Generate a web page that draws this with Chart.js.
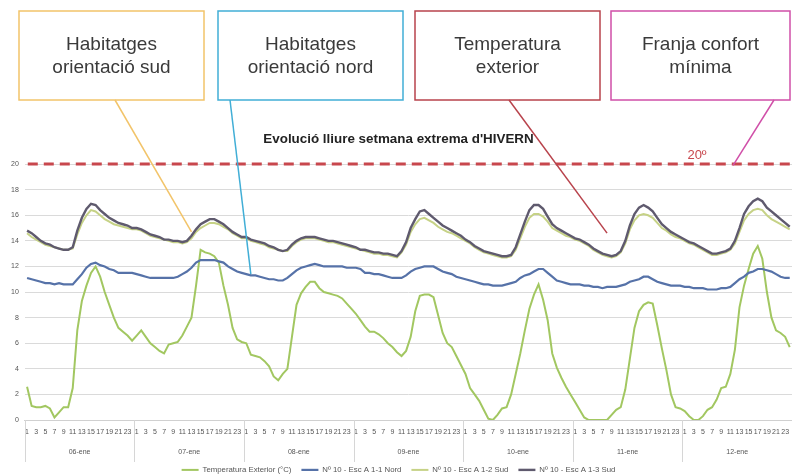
<!DOCTYPE html>
<html>
<head>
<meta charset="utf-8">
<script src="https://cdn.jsdelivr.net/npm/chart.js@4.4.1/dist/chart.umd.min.js"></script>
<style>
  html, body { margin: 0; padding: 0; background: #fff; }
  #wrap { position: relative; width: 792px; height: 476px; }
</style>
</head>
<body>
<div id="wrap"><canvas id="chartHivern"></canvas></div>
<script>
"use strict";

var dayLabels = ['06-ene', '07-ene', '08-ene', '09-ene', '10-ene', '11-ene', '12-ene'];
var hourLabels = ['1','2','3','4','5','6','7','8','9','10','11','12','13','14','15','16','17','18','19','20','21','22','23','24'];
var yTicks = [0, 2, 4, 6, 8, 10, 12, 14, 16, 18, 20];
var confortMin = 20;

// Temperatura Exterior (°C), hour by hour, one line per day
var tempExterior = [
  2.6, 1.1, 1.0, 1.0, 1.1, 0.9, 0.2, 0.6, 1.0, 1.0, 2.5, 7.0, 9.3, 10.5, 11.5, 12.0, 11.2, 10.0, 9.0, 8.0, 7.2, 6.9, 6.6, 6.2,
  6.6, 7.0, 6.5, 6.0, 5.7, 5.4, 5.2, 5.9, 6.0, 6.1, 6.6, 7.3, 8.0, 10.5, 13.3, 13.1, 13.0, 12.8, 12.3, 10.5, 9.0, 7.2, 6.3, 6.1,
  6.0, 5.1, 5.0, 4.9, 4.6, 4.2, 3.4, 3.1, 3.6, 4.0, 6.5, 9.0, 9.9, 10.4, 10.8, 10.8, 10.3, 10.0, 9.9, 9.8, 9.7, 9.5, 9.1, 8.7,
  8.3, 7.8, 7.3, 6.9, 6.9, 6.7, 6.4, 6.0, 5.7, 5.3, 5.0, 5.4, 6.5, 8.5, 9.7, 9.8, 9.8, 9.6, 8.2, 6.8, 6.0, 5.7, 5.0, 4.3,
  3.6, 2.5, 2.0, 1.5, 0.8, 0.1, 0.0, 0.4, 0.9, 1.0, 2.0, 3.6, 5.2, 7.0, 8.7, 9.8, 10.6, 9.4, 7.8, 5.2, 4.1, 3.3, 2.6, 2.0,
  1.4, 0.8, 0.2, 0.0, 0.0, 0.0, 0.0, 0.0, 0.4, 0.8, 1.0, 2.4, 4.8, 7.2, 8.5, 9.0, 9.2, 9.1, 7.4, 5.6, 3.9, 2.0, 1.0, 0.9,
  0.7, 0.3, 0.0, 0.0, 0.3, 0.8, 1.0, 1.6, 2.5, 2.6, 3.6, 5.5, 8.8, 10.5, 11.8, 13.0, 13.6, 12.6, 10.0, 8.0, 7.0, 6.8, 6.5, 5.7
];

// Nº 10 - Esc A 1-1 Nord
var nord11 = [
  11.1, 11.0, 10.9, 10.8, 10.7, 10.7, 10.6, 10.7, 10.6, 10.6, 10.6, 11.0, 11.4, 11.9, 12.2, 12.3, 12.1, 12.0, 11.8, 11.7, 11.5, 11.5, 11.5, 11.5,
  11.4, 11.3, 11.2, 11.1, 11.1, 11.1, 11.1, 11.1, 11.1, 11.2, 11.4, 11.6, 11.9, 12.3, 12.5, 12.5, 12.5, 12.5, 12.4, 12.3, 12.0, 11.8, 11.6, 11.5,
  11.4, 11.3, 11.3, 11.2, 11.1, 11.0, 11.0, 10.9, 10.9, 11.1, 11.4, 11.7, 11.9, 12.0, 12.1, 12.2, 12.1, 12.0, 12.0, 12.0, 12.0, 12.0, 11.9, 11.9,
  11.9, 11.8, 11.5, 11.5, 11.4, 11.4, 11.3, 11.2, 11.1, 11.1, 11.1, 11.3, 11.6, 11.8, 11.9, 12.0, 12.0, 12.0, 11.8, 11.6, 11.5, 11.4, 11.2, 11.1,
  11.0, 10.9, 10.8, 10.7, 10.6, 10.6, 10.5, 10.5, 10.5, 10.6, 10.7, 10.8, 11.1, 11.3, 11.4, 11.6, 11.8, 11.8, 11.5, 11.2, 10.9, 10.8, 10.7, 10.6,
  10.6, 10.6, 10.5, 10.5, 10.4, 10.4, 10.3, 10.4, 10.4, 10.4, 10.5, 10.6, 10.8, 10.9, 11.0, 11.2, 11.2, 11.0, 10.8, 10.7, 10.6, 10.5, 10.5, 10.5,
  10.4, 10.4, 10.3, 10.3, 10.3, 10.2, 10.2, 10.2, 10.3, 10.3, 10.4, 10.7, 11.0, 11.2, 11.5, 11.6, 11.8, 11.8, 11.7, 11.6, 11.4, 11.2, 11.1, 11.1
];

// Nº 10 - Esc A 1-2 Sud
var sud12 = [
  14.6, 14.3, 14.1, 13.9, 13.7, 13.6, 13.5, 13.4, 13.3, 13.3, 13.4, 14.5, 15.4, 16.0, 16.4, 16.3, 16.0, 15.7, 15.5, 15.3, 15.2, 15.1, 15.0, 14.9,
  14.9, 14.8, 14.6, 14.4, 14.3, 14.2, 14.1, 14.0, 13.9, 13.9, 13.8, 13.9, 14.2, 14.7, 15.0, 15.2, 15.4, 15.4, 15.3, 15.1, 14.9, 14.6, 14.4, 14.2,
  14.2, 14.0, 13.9, 13.8, 13.7, 13.5, 13.4, 13.3, 13.2, 13.2, 13.6, 13.9, 14.1, 14.2, 14.2, 14.2, 14.1, 14.0, 13.9, 13.9, 13.8, 13.7, 13.6, 13.5,
  13.4, 13.3, 13.2, 13.1, 13.0, 13.0, 12.9, 12.9, 12.8, 12.7, 13.1, 13.7, 14.7, 15.3, 15.7, 15.8, 15.6, 15.4, 15.1, 14.9, 14.7, 14.6, 14.4, 14.2,
  14.0, 13.8, 13.5, 13.3, 13.1, 13.0, 12.9, 12.8, 12.7, 12.7, 12.8, 13.3, 14.2, 15.1, 15.8, 16.1, 16.1, 15.9, 15.5, 15.0, 14.8, 14.6, 14.4, 14.3,
  14.1, 14.0, 13.8, 13.6, 13.3, 13.1, 12.9, 12.8, 12.7, 12.8, 13.1, 13.8, 14.9, 15.6, 16.0, 16.1, 16.0, 15.8, 15.4, 15.0, 14.8, 14.5, 14.3, 14.2,
  14.0, 13.8, 13.7, 13.5, 13.3, 13.1, 12.9, 12.9, 13.0, 13.1, 13.3, 13.8, 14.7, 15.6, 16.1, 16.4, 16.5, 16.4, 16.0, 15.7, 15.5, 15.3, 15.1, 14.9
];

// Nº 10 - Esc A 1-3 Sud
var sud13 = [
  14.8, 14.6, 14.3, 14.0, 13.8, 13.7, 13.5, 13.4, 13.3, 13.3, 13.5, 14.8, 15.8, 16.5, 16.9, 16.8, 16.4, 16.1, 15.8, 15.6, 15.4, 15.3, 15.2, 15.0,
  15.0, 14.9, 14.7, 14.5, 14.4, 14.3, 14.1, 14.1, 14.0, 14.0, 13.9, 14.0, 14.4, 14.9, 15.3, 15.5, 15.7, 15.7, 15.5, 15.3, 15.0, 14.7, 14.5, 14.3,
  14.3, 14.1, 14.0, 13.9, 13.8, 13.6, 13.5, 13.3, 13.2, 13.3, 13.7, 14.0, 14.2, 14.3, 14.3, 14.3, 14.2, 14.1, 14.0, 14.0, 13.9, 13.8, 13.7, 13.6,
  13.5, 13.3, 13.3, 13.2, 13.1, 13.1, 13.0, 13.0, 12.9, 12.8, 13.2, 13.9, 15.0, 15.7, 16.3, 16.4, 16.1, 15.8, 15.5, 15.2, 15.0, 14.8, 14.6, 14.4,
  14.1, 13.9, 13.6, 13.4, 13.2, 13.1, 13.0, 12.9, 12.8, 12.8, 12.9, 13.5, 14.5, 15.5, 16.4, 16.8, 16.8, 16.5, 15.9, 15.3, 15.0, 14.8, 14.6, 14.4,
  14.2, 14.1, 13.9, 13.7, 13.4, 13.2, 13.0, 12.9, 12.8, 12.9, 13.2, 14.0, 15.2, 16.1, 16.6, 16.8, 16.6, 16.3, 15.8, 15.3, 15.0, 14.7, 14.5, 14.3,
  14.1, 13.9, 13.8, 13.6, 13.4, 13.2, 13.0, 13.0, 13.1, 13.2, 13.4, 14.0, 15.0, 16.1, 16.7, 17.1, 17.3, 17.1, 16.6, 16.3, 16.0, 15.7, 15.4, 15.1
];

// one category per hour of the week
var hourAxisLabels = [];
dayLabels.forEach(function () {
  hourLabels.forEach(function (h) { hourAxisLabels.push(h); });
});

// callout boxes drawn over the top of the chart
var callouts = [
  { lines: ['Habitatges', 'orientació sud'], color: '#f2c46a', box: [19, 11, 185, 89], from: [115, 100], to: [36, 14.7] },
  { lines: ['Habitatges', 'orientació nord'], color: '#41aed6', box: [218, 11, 185, 89], from: [230, 100], to: [49, 11.4] },
  { lines: ['Temperatura', 'exterior'], color: '#b8434c', box: [415, 11, 185, 89], from: [509, 100], to: [127, 14.6] },
  { lines: ['Franja confort', 'mínima'], color: '#d04fa8', box: [611, 11, 179, 89], from: [774, 100], to: [154.6, 19.9] }
];

var hivernPlugin = {
  id: 'hivernOverlay',
  beforeDatasetsDraw: function (chart) {
    var ctx = chart.ctx, ys = chart.scales.y, area = chart.chartArea;
    var y = ys.getPixelForValue(confortMin);
    ctx.save();
    ctx.strokeStyle = '#c8474d';
    ctx.lineWidth = 3;
    ctx.setLineDash([10, 6]);
    ctx.beginPath();
    ctx.moveTo(area.left + 3, y);
    ctx.lineTo(area.right, y);
    ctx.stroke();
    ctx.restore();
  },
  afterDraw: function (chart) {
    var ctx = chart.ctx, xs = chart.scales.x, ys = chart.scales.y, area = chart.chartArea;
    var half = (xs.getPixelForValue(1) - xs.getPixelForValue(0)) / 2;

    ctx.save();
    // day separators below the axis
    ctx.strokeStyle = '#d6d6d6';
    ctx.lineWidth = 1;
    for (var d = 0; d <= dayLabels.length; d++) {
      var px = Math.round(xs.getPixelForValue(d * 24) - half) + 0.5;
      ctx.beginPath();
      ctx.moveTo(px, area.bottom);
      ctx.lineTo(px, area.bottom + 42);
      ctx.stroke();
    }

    // 20º label
    ctx.fillStyle = '#c8474d';
    ctx.font = '13px "Liberation Sans", Arial, sans-serif';
    ctx.textAlign = 'center';
    ctx.textBaseline = 'middle';
    ctx.fillText('20º', 697, ys.getPixelForValue(confortMin) - 9);

    // callouts
    callouts.forEach(function (c) {
      ctx.strokeStyle = c.color;
      ctx.lineWidth = 1.5;
      ctx.fillStyle = '#fff';
      ctx.fillRect(c.box[0], c.box[1], c.box[2], c.box[3]);
      ctx.strokeRect(c.box[0], c.box[1], c.box[2], c.box[3]);
      ctx.beginPath();
      ctx.moveTo(c.from[0], c.from[1]);
      ctx.lineTo(xs.getPixelForValue(c.to[0]), ys.getPixelForValue(c.to[1]));
      ctx.stroke();
      ctx.fillStyle = '#3a3a3a';
      ctx.font = '19px "Liberation Sans", Arial, sans-serif';
      ctx.textAlign = 'center';
      ctx.textBaseline = 'alphabetic';
      var cx = c.box[0] + c.box[2] / 2;
      ctx.fillText(c.lines[0], cx, 50);
      ctx.fillText(c.lines[1], cx, 73);
    });
    ctx.restore();
  }
};

var ctx = document.getElementById('chartHivern').getContext('2d');
var chartHivern = new Chart(ctx, {
  type: 'line',
  data: {
    labels: hourAxisLabels,
    datasets: [{
      label: 'Temperatura Exterior (°C)',
      data: tempExterior,
      borderColor: '#a2c761',
      backgroundColor: '#a2c761',
      borderWidth: 2,
      order: 3
    }, {
      label: 'Nº 10 - Esc A 1-1 Nord',
      data: nord11,
      borderColor: '#5672a8',
      backgroundColor: '#5672a8',
      borderWidth: 2.2,
      order: 2
    }, {
      label: 'Nº 10 - Esc A 1-2 Sud',
      data: sud12,
      borderColor: '#c6d286',
      backgroundColor: '#c6d286',
      borderWidth: 2,
      order: 1
    }, {
      label: 'Nº 10 - Esc A 1-3 Sud',
      data: sud13,
      borderColor: '#5f5a6e',
      backgroundColor: '#5f5a6e',
      borderWidth: 2.4,
      order: 0
    }]
  },
  options: {
    responsive: true,
    maintainAspectRatio: false,
    animation: false,
    layout: {
      padding: { top: 131, left: 5, right: 0, bottom: 0 }
    },
    elements: {
      point: { radius: 0 },
      line: { tension: 0, fill: false }
    },
    plugins: {
      title: {
        display: true,
        text: "Evolució lliure setmana extrema d'HIVERN",
        color: '#222',
        font: { family: '"Liberation Sans", Arial, sans-serif', size: 13.4, weight: 'bold' },
        padding: { top: 0, bottom: 17 }
      },
      legend: {
        display: true,
        position: 'bottom',
        maxHeight: 20,
        labels: {
          usePointStyle: true,
          pointStyle: 'line',
          pointStyleWidth: 17,
          padding: 10,
          color: '#555',
          font: { family: '"Liberation Sans", Arial, sans-serif', size: 7.8 },
          sort: function (a, b) { return a.datasetIndex - b.datasetIndex; }
        }
      },
      tooltip: { enabled: false }
    },
    scales: {
      x: {
        type: 'category',
        offset: true,
        grid: { display: false, drawTicks: false },
        border: { display: true, color: '#d0d0d0' },
        afterFit: function (scale) {
          scale.height = 16;
          scale.paddingLeft = 0;
          scale.paddingRight = 0;
        },
        ticks: {
          autoSkip: false,
          maxRotation: 0,
          minRotation: 0,
          padding: 8,
          color: '#555',
          font: { family: '"Liberation Sans", Arial, sans-serif', size: 7 },
          callback: function (value, index) {
            return index % 2 === 0 ? hourAxisLabels[index] : '';
          }
        }
      },
      xDay: {
        type: 'category',
        position: 'bottom',
        labels: dayLabels,
        offset: true,
        grid: { display: false, drawTicks: false },
        border: { display: false },
        afterFit: function (scale) {
          scale.height = 20;
          scale.paddingLeft = 0;
          scale.paddingRight = 0;
        },
        ticks: {
          padding: 12,
          color: '#555',
          font: { family: '"Liberation Sans", Arial, sans-serif', size: 7 }
        }
      },
      y: {
        min: 0,
        max: 20,
        afterBuildTicks: function (axis) {
          axis.ticks = yTicks.map(function (v) { return { value: v }; });
        },
        grid: { color: '#dadada', drawTicks: false },
        border: { display: false },
        ticks: {
          padding: 6,
          color: '#555',
          font: { family: '"Liberation Sans", Arial, sans-serif', size: 7 }
        }
      }
    }
  },
  plugins: [hivernPlugin]
});
</script>
</body>
</html>
